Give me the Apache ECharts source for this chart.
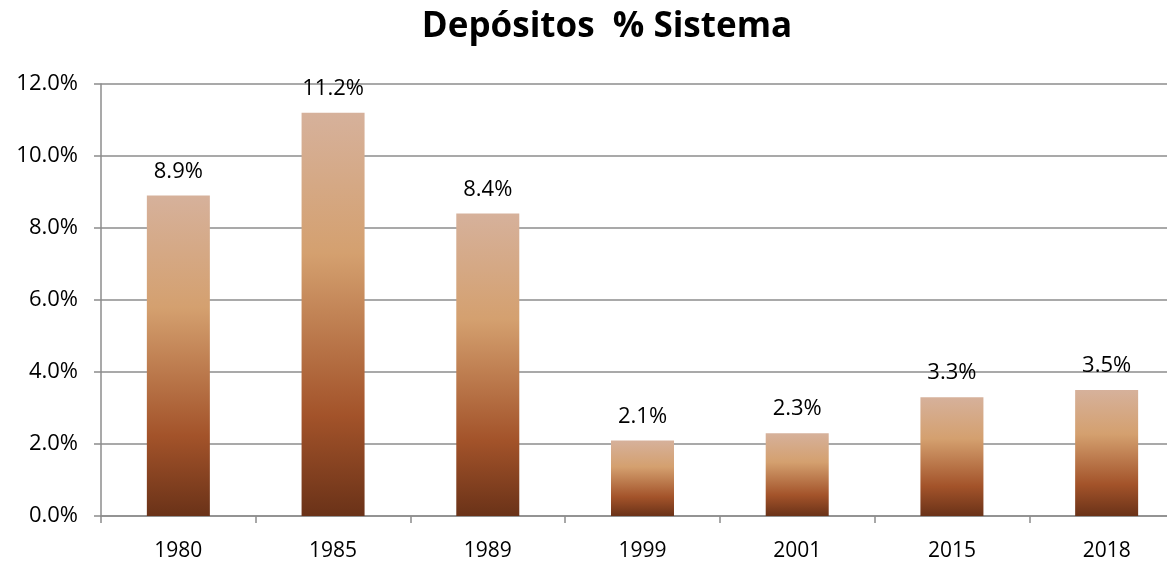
<!DOCTYPE html>
<html>
<head>
    <meta charset="utf-8">
    <title>Depósitos % Sistema</title>
    <script src="https://cdn.jsdelivr.net/npm/echarts@6/dist/echarts.min.js"></script>
    <style>
        body { margin: 0; background: #fff; }
        #main { width: 1167px; height: 563px; }
    </style>
</head>
<body>
    <div id="main"></div>
    <script type="text/javascript">
        // data
        var years = ['1980', '1985', '1989', '1999', '2001', '2015', '2018'];
        var shares = [8.9, 11.2, 8.4, 2.1, 2.3, 3.3, 3.5];
        var yTicks = [0, 2, 4, 6, 8, 10, 12];

        var chart = echarts.init(document.getElementById('main'));
        var font = '"Open Sans", "Liberation Sans", sans-serif';

        var barColor = new echarts.graphic.LinearGradient(0, 0, 0, 1, [
            { offset: 0, color: '#d6b19b' },
            { offset: 0.35, color: '#d4a06f' },
            { offset: 0.75, color: '#a3532a' },
            { offset: 1, color: '#6a3218' }
        ]);

        var option = {
            animation: false,
            backgroundColor: '#ffffff',
            title: {
                text: 'Depósitos  % Sistema',
                left: 602,
                textAlign: 'center',
                top: 5,
                textStyle: {
                    fontFamily: font,
                    fontWeight: 'bold',
                    fontSize: 35,
                    color: '#000'
                }
            },
            grid: {
                left: 101,
                width: 1083,
                top: 84,
                bottom: 47,
                outerBoundsMode: 'none'
            },
            xAxis: {
                type: 'category',
                data: years,
                axisLine: { lineStyle: { color: '#8c8c8c', width: 1.5 } },
                axisTick: { show: true, length: 7, lineStyle: { color: '#8c8c8c', width: 1.5 } },
                axisLabel: {
                    margin: 25,
                    fontFamily: font,
                    fontSize: 21,
                    color: '#000'
                }
            },
            yAxis: {
                type: 'value',
                min: yTicks[0],
                max: yTicks[yTicks.length - 1],
                interval: 2,
                axisLine: { show: true, lineStyle: { color: '#8c8c8c', width: 1.5 } },
                axisTick: { show: true, length: 7, lineStyle: { color: '#8c8c8c', width: 1.5 } },
                splitLine: { lineStyle: { color: '#8c8c8c', width: 1.5 } },
                axisLabel: {
                    margin: 23,
                    fontFamily: font,
                    fontSize: 22,
                    color: '#000',
                    formatter: function (v) { return v.toFixed(1) + '%'; }
                }
            },
            series: [{
                type: 'bar',
                data: shares,
                barWidth: 63,
                itemStyle: { color: barColor },
                label: {
                    show: true,
                    position: 'top',
                    distance: 13,
                    fontFamily: font,
                    fontSize: 22,
                    color: '#000',
                    formatter: function (p) { return p.value.toFixed(1) + '%'; }
                }
            }]
        };
        chart.setOption(option);
    </script>
</body>
</html>
